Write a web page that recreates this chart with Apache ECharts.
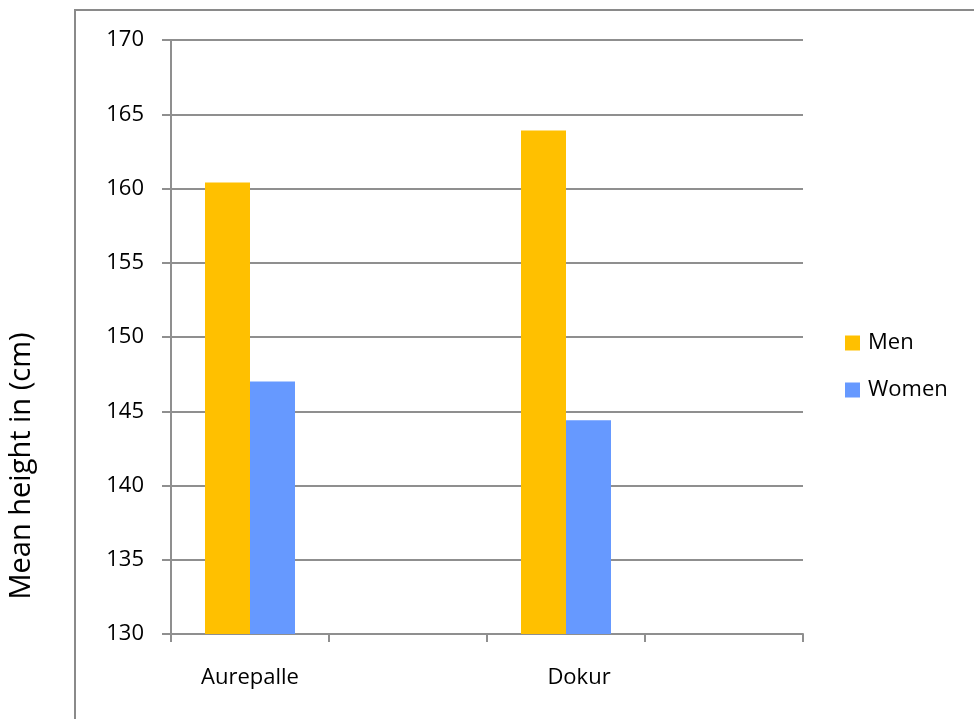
<!DOCTYPE html>
<html>
<head>
<meta charset="utf-8">
<script src="https://cdn.jsdelivr.net/npm/echarts@6/dist/echarts.min.js"></script>
<style>
  html, body { margin: 0; padding: 0; background: #fff; }
  #chart { width: 974px; height: 719px; }
</style>
</head>
<body>
<div id="chart"></div>
<script>
// Village categories (blank slots keep the spacing between groups)
const categories = ['Aurepalle', '', 'Dokur', ''];
// Mean heights in cm
const menHeights = [160.4, '-', 163.9, '-'];
const womenHeights = [147.0, '-', 144.4, '-'];
const seriesNames = ['Men', 'Women'];
const axisTitle = 'Mean height in (cm)';

const FONT = '"Open Sans", "Liberation Sans", sans-serif';
const GRID_COLOR = '#8f8f8f';

// The "Dokur" label sits a little right of its slot centre
const categoryItems = categories.map(function (name) {
  if (name === 'Dokur') {
    return { value: name, textStyle: { padding: [0, 0, 0, 26] } };
  }
  return name;
});

const chart = echarts.init(document.getElementById('chart'));
chart.setOption({
  animation: false,
  backgroundColor: '#ffffff',
  textStyle: { fontFamily: FONT },
  graphic: [
    {
      type: 'rect',
      shape: { x: 75, y: 10, width: 1000, height: 800 },
      style: { fill: 'none', stroke: '#8a8a8a', lineWidth: 2 },
      silent: true
    },
    {
      type: 'text',
      x: 22,
      y: 466,
      rotation: Math.PI / 2,
      style: {
        text: axisTitle,
        fontFamily: FONT,
        fontSize: 29,
        fill: '#000',
        align: 'center',
        verticalAlign: 'middle'
      }
    }
  ],
  legend: {
    orient: 'vertical',
    left: 845,
    top: 332,
    padding: 0,
    itemWidth: 15,
    itemHeight: 15,
    itemGap: 25,
    icon: 'rect',
    textStyle: { fontFamily: FONT, fontSize: 22, color: '#000', padding: [0, 0, 0, 3] },
    data: seriesNames
  },
  grid: { left: 171, right: 171, top: 40, bottom: 85, containLabel: false },
  xAxis: {
    type: 'category',
    data: categoryItems,
    axisLine: { lineStyle: { color: GRID_COLOR, width: 2 } },
    axisTick: { show: true, length: 8, interval: 0, lineStyle: { color: GRID_COLOR, width: 2 } },
    axisLabel: { interval: 0, margin: 33, fontFamily: FONT, fontSize: 22, color: '#000' }
  },
  yAxis: {
    type: 'value',
    min: 130,
    max: 170,
    interval: 5,
    axisLine: { show: true, lineStyle: { color: GRID_COLOR, width: 2 } },
    axisTick: { show: true, length: 9, lineStyle: { color: GRID_COLOR, width: 2 } },
    axisLabel: { margin: 27, fontFamily: FONT, fontSize: 22, color: '#000' },
    splitLine: { show: true, lineStyle: { color: GRID_COLOR, width: 2 } }
  },
  series: [
    {
      name: seriesNames[0],
      type: 'bar',
      data: menHeights,
      barWidth: 45,
      barGap: '0%',
      itemStyle: { color: '#FFC000' }
    },
    {
      name: seriesNames[1],
      type: 'bar',
      data: womenHeights,
      barWidth: 45,
      barGap: '0%',
      itemStyle: { color: '#6699FF' }
    }
  ]
});
</script>
</body>
</html>
